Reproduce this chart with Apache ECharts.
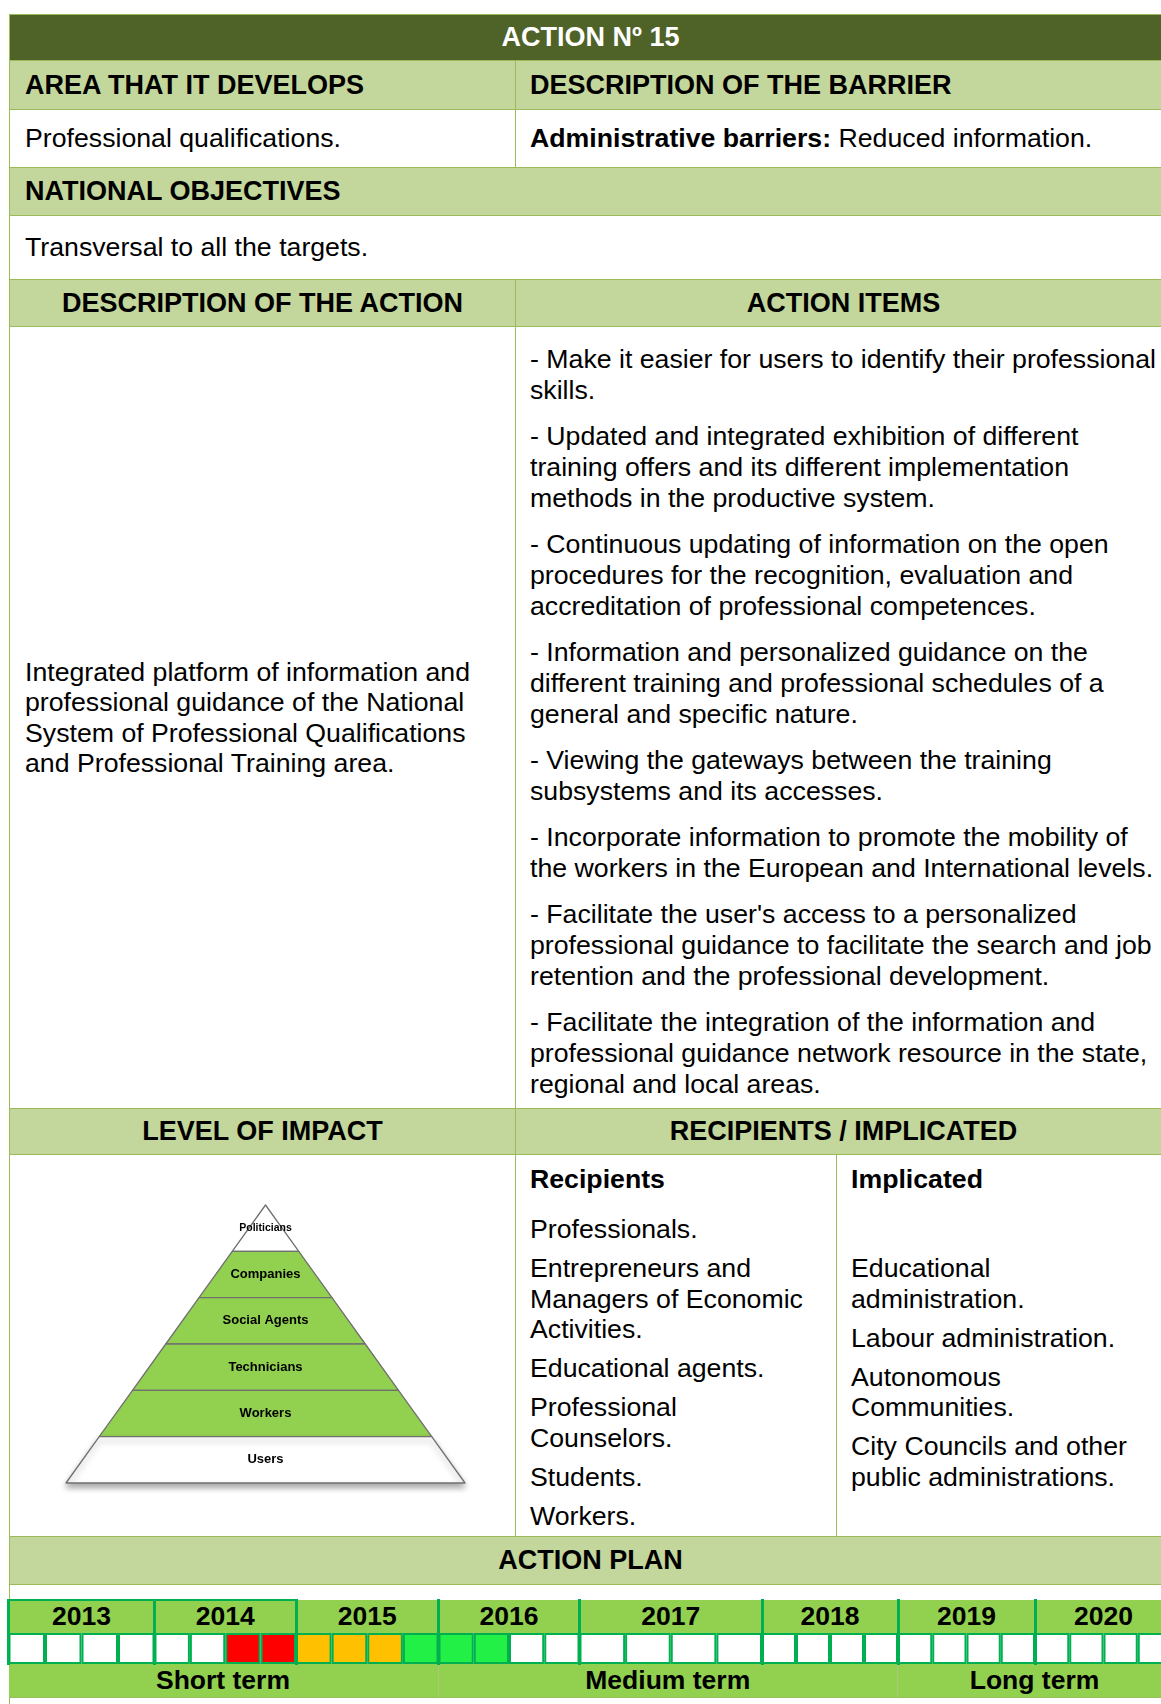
<!DOCTYPE html>
<html>
<head>
<meta charset="utf-8">
<script src="https://cdn.jsdelivr.net/npm/echarts@6/dist/echarts.min.js"></script>
<style>
html,body{margin:0;padding:0;width:1161px;height:1704px;overflow:hidden;background:#fff;}
body{font-family:"Liberation Sans",Arial,Helvetica,sans-serif;color:#000;position:relative;}
.c{position:absolute;box-sizing:border-box;border:1px solid #9BBB59;display:flex;align-items:center;font-size:26.7px;line-height:31px;white-space:nowrap;}
.h{background:#C3D69B;font-weight:bold;font-size:27px;}
.ctr{justify-content:center;}
.pl{padding-left:15px;}
.pr{padding-left:14px;}
.blk{display:block;}
.items p{margin:0 0 15px 0;line-height:31px;}
.rec p{margin:0 0 8.5px 0;line-height:30.5px;}
.rec p.hd{font-weight:bold;margin-bottom:19.5px;}
.ov{position:absolute;z-index:3;}
.yr{position:absolute;box-sizing:border-box;background:#92D050;font-weight:bold;font-size:26.5px;display:flex;align-items:center;justify-content:center;z-index:1;}
.tm{position:absolute;box-sizing:border-box;background:#92D050;font-weight:bold;font-size:26.5px;display:flex;align-items:center;justify-content:center;border-right:1px solid #A9C97B;border-bottom:1px solid #9BBB59;}
</style>
</head>
<body>
<script>
// ---------- DATA ----------
const pyramidLevels = ['Politicians', 'Companies', 'Social Agents', 'Technicians', 'Workers', 'Users'];
const pyramidRank = [1, 2, 3, 4, 5, 6];
const impactedLevels = [false, true, true, true, true, false];

const years = ['2013', '2014', '2015', '2016', '2017', '2018', '2019', '2020'];
// 4 quarters per year: 0 none, 1 red, 2 amber, 3 green
const quarterStatus = [
  0, 0, 0, 0,
  0, 0, 1, 1,
  2, 2, 2, 3,
  3, 3, 0, 0,
  0, 0, 0, 0,
  0, 0, 0, 0,
  0, 0, 0, 0,
  0, 0, 0, 0
];
const quarterLabels = ['Q1', 'Q2', 'Q3', 'Q4'];
const terms = ['Short term', 'Medium term', 'Long term'];
const termYearCount = [3, 3, 2];
</script>

<div class="c" style="left:9px;top:14px;width:1163px;height:47px;background:#4F6228;color:#fff;font-weight:bold;font-size:27px;justify-content:center;">ACTION Nº 15</div>

<div class="c h pl" style="left:9px;top:60px;width:507px;height:50px;">AREA THAT IT DEVELOPS</div>
<div class="c h pr" style="left:515px;top:60px;width:657px;height:50px;">DESCRIPTION OF THE BARRIER</div>

<div class="c pl" style="left:9px;top:109px;width:507px;height:59px;">Professional qualifications.</div>
<div class="c pr" style="left:515px;top:109px;width:657px;height:59px;"><b>Administrative barriers:</b>&nbsp;Reduced information.</div>

<div class="c h pl" style="left:9px;top:167px;width:1163px;height:49px;">NATIONAL OBJECTIVES</div>
<div class="c pl" style="left:9px;top:215px;width:1163px;height:65px;">Transversal to all the targets.</div>

<div class="c h ctr" style="left:9px;top:279px;width:507px;height:48px;">DESCRIPTION OF THE ACTION</div>
<div class="c h ctr" style="left:515px;top:279px;width:657px;height:48px;">ACTION ITEMS</div>

<div class="c pl" style="left:9px;top:326px;width:507px;height:783px;line-height:30.4px;">
<div>Integrated platform of information and<br>professional guidance of the National<br>System of Professional Qualifications<br>and Professional Training area.</div>
</div>
<div class="c pr blk items" style="left:515px;top:326px;width:657px;height:783px;padding-top:17px;">
<p>- Make it easier for users to identify their professional<br>skills.</p>
<p>- Updated and integrated exhibition of different<br>training offers and its different implementation<br>methods in the productive system.</p>
<p>- Continuous updating of information on the open<br>procedures for the recognition, evaluation and<br>accreditation of professional competences.</p>
<p>- Information and personalized guidance on the<br>different training and professional schedules of a<br>general and specific nature.</p>
<p>- Viewing the gateways between the training<br>subsystems and its accesses.</p>
<p>- Incorporate information to promote the mobility of<br>the workers in the European and International levels.</p>
<p>- Facilitate the user's access to a personalized<br>professional guidance to facilitate the search and job<br>retention and the professional development.</p>
<p>- Facilitate the integration of the information and<br>professional guidance network resource in the state,<br>regional and local areas.</p>
</div>

<div class="c h ctr" style="left:9px;top:1108px;width:507px;height:47px;">LEVEL OF IMPACT</div>
<div class="c h ctr" style="left:515px;top:1108px;width:657px;height:47px;">RECIPIENTS / IMPLICATED</div>

<div class="c blk" style="left:9px;top:1154px;width:507px;height:383px;"></div>
<div id="pyramid" style="position:absolute;left:10px;top:1155px;width:504px;height:380px;"></div>

<div class="c pr blk rec" style="left:515px;top:1154px;width:322px;height:383px;padding-top:9px;">
<p class="hd">Recipients</p>
<p>Professionals.</p>
<p>Entrepreneurs and<br>Managers of Economic<br>Activities.</p>
<p>Educational agents.</p>
<p>Professional<br>Counselors.</p>
<p>Students.</p>
<p>Workers.</p>
</div>
<div class="c pr blk rec" style="left:836px;top:1154px;width:336px;height:383px;padding-top:9px;">
<p class="hd">Implicated</p>
<p>&nbsp;</p>
<p>Educational<br>administration.</p>
<p>Labour administration.</p>
<p>Autonomous<br>Communities.</p>
<p>City Councils and other<br>public administrations.</p>
</div>

<div class="c h ctr" style="left:9px;top:1536px;width:1163px;height:49px;">ACTION PLAN</div>
<div class="c blk" style="left:9px;top:1584px;width:1163px;height:200px;"></div>

<div id="timeline" style="position:absolute;left:0px;top:1626px;width:1172px;height:46px;z-index:2;"></div>
<div id="tlover"></div>

<script>
// ---------- LAYOUT (not data) ----------
const yearEdges = [8.5, 154.5, 296, 438.5, 579.5, 762, 898, 1035, 1172];
const statusColors = ['#FFFFFF', '#FF0000', '#FFC000', '#22F046'];
const lineGreen = '#00B050';

// ---------- PYRAMID ----------
const pyr = echarts.init(document.getElementById('pyramid'), null, {renderer: 'canvas'});
pyr.setOption({
  animation: false,
  series: [{
    type: 'funnel',
    sort: 'ascending',
    left: 56, top: 50, width: 399, height: 278,
    min: 0, max: 6, minSize: '0%', maxSize: '100%', gap: 0,
    silent: true,
    label: {show: true, position: 'inside', color: '#000', fontWeight: 'bold', fontSize: 13,
            fontFamily: '"Liberation Sans", Arial, sans-serif'},
    labelLine: {show: false},
    itemStyle: {borderColor: '#707070', borderWidth: 1.3},
    data: pyramidLevels.map((name, i) => ({
      name: name,
      value: pyramidRank[i],
      itemStyle: Object.assign(
        {color: impactedLevels[i] ? '#92D050' : '#FFFFFF'},
        i === pyramidLevels.length - 1 ? {shadowBlur: 6, shadowOffsetY: 4, shadowColor: 'rgba(0,0,0,0.35)'} : {}
      ),
      label: i === 0 ? {fontSize: 10.5} : {}
    }))
  }]
});

// ---------- TIMELINE CELLS ----------
const tl = echarts.init(document.getElementById('timeline'), null, {renderer: 'canvas'});
const grids = [], xAxes = [], yAxes = [], series = [];
years.forEach((y, i) => {
  grids.push({left: yearEdges[i], width: yearEdges[i + 1] - yearEdges[i], top: 7, height: 31});
  xAxes.push({type: 'category', gridIndex: i, data: quarterLabels, show: false});
  yAxes.push({type: 'value', gridIndex: i, min: 0, max: 1, show: false});
  series.push({
    type: 'bar', xAxisIndex: i, yAxisIndex: i, barCategoryGap: '0%', silent: true,
    itemStyle: {borderColor: lineGreen, borderWidth: 2},
    data: quarterLabels.map((q, k) => ({
      value: 1,
      itemStyle: {color: statusColors[quarterStatus[i * 4 + k]]}
    }))
  });
});
tl.setOption({animation: false, grid: grids, xAxis: xAxes, yAxis: yAxes, series: series});

// ---------- TIMELINE HEADERS (years, terms, separators) ----------
const ov = document.getElementById('tlover');
years.forEach((y, i) => {
  const d = document.createElement('div');
  d.className = 'yr';
  d.style.left = yearEdges[i] + 'px';
  d.style.top = '1600px';
  d.style.width = (yearEdges[i + 1] - yearEdges[i]) + 'px';
  d.style.height = '33px';
  d.textContent = y;
  ov.appendChild(d);
});
yearEdges.forEach((x) => {
  const s = document.createElement('div');
  s.className = 'ov';
  s.style.cssText += 'left:' + (x - 1.5) + 'px;top:1599px;width:3px;height:66px;background:' + lineGreen + ';';
  ov.appendChild(s);
});
(function () {
  const t = document.createElement('div');
  t.className = 'ov';
  t.style.cssText += 'left:' + yearEdges[0] + 'px;top:1599px;width:' + (yearEdges[2] - yearEdges[0]) + 'px;height:2px;background:' + lineGreen + ';';
  ov.appendChild(t);
})();
let yi = 0;
terms.forEach((t, i) => {
  const d = document.createElement('div');
  d.className = 'tm';
  const x0 = yearEdges[yi], x1 = yearEdges[yi + termYearCount[i]];
  d.style.left = x0 + 'px';
  d.style.top = '1664px';
  d.style.width = (x1 - x0) + 'px';
  d.style.height = '34px';
  d.textContent = t;
  ov.appendChild(d);
  yi += termYearCount[i];
});
</script>
</body>
</html>
